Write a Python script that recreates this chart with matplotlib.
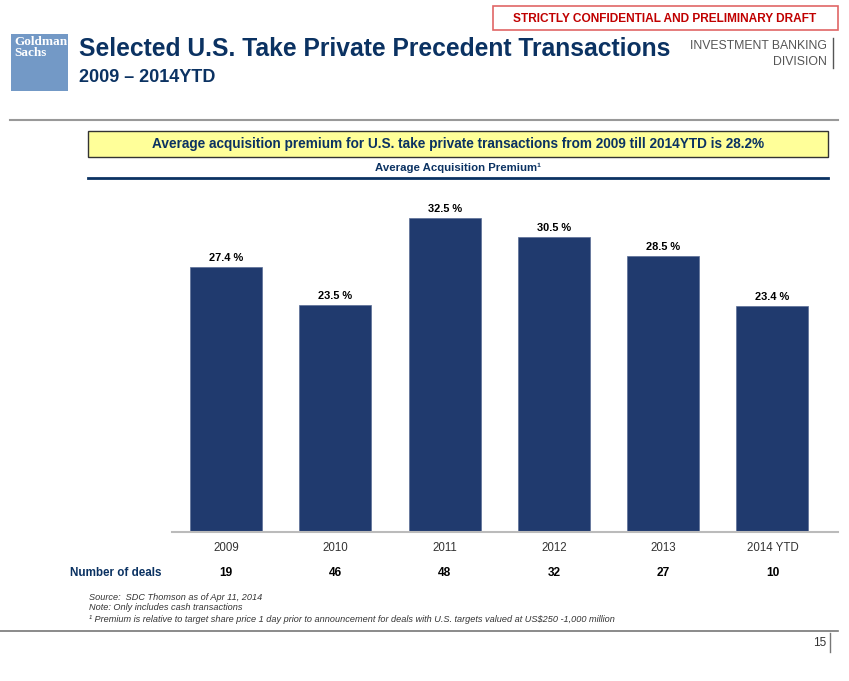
import matplotlib
matplotlib.use("Agg")
import matplotlib.pyplot as plt
from matplotlib.patches import Rectangle

# data
years = ["2009", "2010", "2011", "2012", "2013", "2014 YTD"]
premium = [27.4, 23.5, 32.5, 30.5, 28.5, 23.4]
deals = [19, 46, 48, 32, 27, 10]

navy = "#0B3262"
bar_col = "#203A6E"

plt.rcParams["font.family"] = ["Liberation Sans", "DejaVu Sans"]

W, H = 849, 681
fig = plt.figure(figsize=(W / 100, H / 100), dpi=100)

# overlay in pixel coords for the slide decoration
deco = fig.add_axes([0, 0, 1, 1])
deco.set_xlim(0, W)
deco.set_ylim(H, 0)
deco.axis("off")

# draft banner
deco.add_patch(Rectangle((493, 6), 345, 24, fill=False, edgecolor="#E06666", lw=1.2))
deco.text(665, 18.5, "STRICTLY CONFIDENTIAL AND PRELIMINARY DRAFT", ha="center", va="center",
          color="#C00000", fontsize=8.6, fontweight="bold")

# logo
deco.add_patch(Rectangle((11, 34), 57, 57, facecolor="#7399C6", edgecolor="none"))
deco.text(14, 36, "Goldman\nSachs", ha="left", va="top", color="white", fontsize=9.5,
          fontweight="bold", family="Liberation Serif", linespacing=0.85)

# title block
deco.text(79, 49, "Selected U.S. Take Private Precedent Transactions", ha="left", va="center",
          color=navy, fontsize=17.7, fontweight="bold")
deco.text(79, 78, "2009 \u2013 2014YTD", ha="left", va="center",
          color=navy, fontsize=13, fontweight="bold")
deco.text(827, 46, "INVESTMENT BANKING", ha="right", va="center", color="#555555",
          fontsize=8.8)
deco.text(827, 62, "DIVISION", ha="right", va="center", color="#555555",
          fontsize=8.8)
deco.plot([833, 833], [38, 68], color="#555555", lw=1)

deco.plot([10, 838], [120, 120], color="#999999", lw=1.5)

# highlight box
deco.add_patch(Rectangle((88, 131), 740, 26, facecolor="#FFFF99", edgecolor="#333333", lw=1))
deco.text(458, 144, "Average acquisition premium for U.S. take private transactions from 2009 till 2014YTD is 28.2%",
          ha="center", va="center", color=navy, fontsize=9.8, fontweight="bold")
deco.text(458, 168, "Average Acquisition Premium\u00b9", ha="center", va="center",
          color=navy, fontsize=8.2, fontweight="bold")
deco.plot([88, 828], [178, 178], color=navy, lw=2)

# number of deals row
deco.text(162, 573, "Number of deals", ha="right", va="center", color=navy,
          fontsize=8.4, fontweight="bold")

# footnotes
notes = ["Source:  SDC Thomson as of Apr 11, 2014",
         "Note: Only includes cash transactions",
         "\u00b9 Premium is relative to target share price 1 day prior to announcement for deals with U.S. targets valued at US$250 -1,000 million"]
for i, t in enumerate(notes):
    deco.text(89, 597 + i * 11, t, ha="left", va="center", color="#333333",
              fontsize=6.6, style="italic")

deco.plot([0, 838], [631, 631], color="#777777", lw=1.2)
deco.text(826, 643, "15", ha="right", va="center", color="#333333", fontsize=8.5)
deco.plot([830, 830], [633, 652], color="#777777", lw=1)

# bar chart
ax = fig.add_axes([172 / W, 1 - 532 / H, 666 / W, 352 / H])
x = list(range(len(years)))
ax.bar(x, premium, width=0.66, color=bar_col, edgecolor="#5A6E96", lw=0.5)
ax.set_xlim(-0.495, 5.6)
ax.set_ylim(0, 36.4)
for s in ["top", "right", "left"]:
    ax.spines[s].set_visible(False)
ax.spines["bottom"].set_color("#BBBBBB")
ax.spines["bottom"].set_linewidth(1.5)
ax.set_yticks([])
ax.set_xticks(x)
ax.set_xticklabels(years, fontsize=8.3, color="#333333")
ax.tick_params(axis="x", length=0, pad=7)
for xi, v in zip(x, premium):
    ax.annotate(f"{v:.1f} %", (xi, v), xytext=(0, 3), textcoords="offset points",
                ha="center", va="bottom", fontsize=7.9, fontweight="bold")
for xi, d in zip(x, deals):
    ax.annotate(str(d), (xi, 0), xytext=(0, -41 * 0.72), textcoords="offset points",
                ha="center", va="center", fontsize=8.6, fontweight="bold")
ax.patch.set_alpha(0)

fig.savefig("out.png", dpi=100)
